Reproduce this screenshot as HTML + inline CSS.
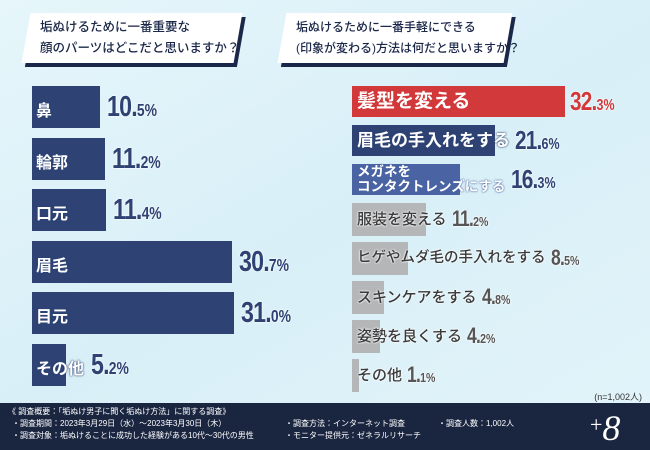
<!DOCTYPE html>
<html><head><meta charset="utf-8">
<style>
*{margin:0;padding:0;box-sizing:border-box}
body{width:650px;height:450px;overflow:hidden;font-family:"Liberation Sans","Noto Sans CJK JP",sans-serif;background:#dcf1f8;position:relative}
.bg{position:absolute;inset:0;background:linear-gradient(150deg,#e6f6fb 0%,#d8eff7 50%,#e3f4fa 100%)}
.title{position:absolute;top:13px;height:50px;background:#fff;transform:skewX(-10deg);box-shadow:4px 4px 0 #1b2748}
.title span{position:absolute;transform:skewX(10deg);line-height:21px;color:#1b2748;font-weight:500;left:14px;top:4px;white-space:nowrap}
.bar{position:absolute}
.lbl{position:absolute;font-weight:bold;white-space:nowrap}
.val{position:absolute;font-weight:bold;white-space:nowrap;font-family:"Liberation Sans Narrow","Liberation Sans",sans-serif;transform:scaleX(0.8);transform-origin:left center;letter-spacing:-1px}
.val small{font-size:60%;letter-spacing:0}
.footer{position:absolute;left:0;top:403px;width:650px;height:47px;background:#1a2540;color:#fff;font-size:8px;line-height:11.5px}
</style></head><body>
<div class="bg"></div>
<div class="title" style="left:26px;width:212px"><span style="font-size:12.5px">垢ぬけるために一番重要な<br>顔のパーツはどこだと思いますか？</span></div>
<div class="title" style="left:282px;width:226px"><span style="font-size:12px">垢ぬけるために一番手軽にできる<br>(印象が変わる)方法は何だと思いますか？</span></div>
<div id="left"></div>
<div id="right"></div>
<div style="position:absolute;right:8px;top:390px;font-size:9px;color:#333">(n=1,002人)</div>
<div class="footer">
<div style="position:absolute;left:8px;top:3px">《 調査概要：「垢ぬけ男子に聞く垢ぬけ方法」に関する調査》</div>
<div style="position:absolute;left:12px;top:15px">・調査期間：2023年3月29日（水）～2023年3月30日（木）</div>
<div style="position:absolute;left:12px;top:27px">・調査対象：垢ぬけることに成功した経験がある10代～30代の男性</div>
<div style="position:absolute;left:285px;top:15px">・調査方法：インターネット調査</div>
<div style="position:absolute;left:285px;top:27px">・モニター提供元：ゼネラルリサーチ</div>
<div style="position:absolute;left:438px;top:15px">・調査人数：1,002人</div>
<div style="position:absolute;left:590px;top:2px;font-size:36px;line-height:40px;font-family:'Liberation Serif',serif;font-style:italic"><span style="font-size:22px;font-style:normal;vertical-align:8px">+</span>8</div>
</div>
<script>
const leftCats=["鼻","輪郭","口元","眉毛","目元","その他"];
const leftVals=[10.5,11.2,11.4,30.7,31.0,5.2];
const rightCats=["髪型を変える","眉毛の手入れをする","メガネを\nコンタクトレンズにする","服装を変える","ヒゲやムダ毛の手入れをする","スキンケアをする","姿勢を良くする","その他"];
const rightVals=[32.3,21.6,16.3,11.2,8.5,4.8,4.2,1.1];
function fmt(v){const s=v.toFixed(1).split('.');return s[0]+'.<small>'+s[1]+'%</small>';}
const L=document.getElementById('left');
const lx=v=>v*6.5, ly=i=>86+i*51.5;
leftCats.forEach((c,i)=>{
 const b=document.createElement('div');b.className='bar';
 
 
 b.style.cssText=`left:32px;top:${ly(i)}px;width:${lx(leftVals[i])}px;height:42px;background:#2e4374`;
 L.appendChild(b);
 const t=document.createElement('div');t.className='lbl';
 
 
 t.style.cssText=`left:36px;top:${ly(i)+11}px;font-size:16px;color:#fff;text-shadow:0 0 2px #2e4374,0 0 1px #2e4374`;
 t.textContent=c;L.appendChild(t);
 const w=document.createElement('div');w.className='val';
 
 
 const vx=Math.max(32+lx(leftVals[i]), c.length*16+36)+7;
 w.style.cssText=`left:${vx}px;top:${ly(i)+5}px;font-size:29px;color:#2e4374;text-shadow:0 0 2px #fff,0 0 2px #fff`;
 w.innerHTML=fmt(leftVals[i]);L.appendChild(w);
});
const R=document.getElementById('right');
const rx=v=>v*6.6, ry=i=>86+i*39;
const colors=["#d2393b","#2e4374","#4a64a3"];
const fsz=[19,17,13.5,15,14.5,15,15,15];
rightCats.forEach((c,i)=>{
 const col=colors[i]||"#b4b6b8";
 const b=document.createElement('div');b.className='bar';
 
 
 b.style.cssText=`left:352px;top:${ry(i)}px;width:${rx(rightVals[i])}px;height:${i<3?31:33}px;background:${col}`;
 R.appendChild(b);
 const two=c.includes('\n');
 const fs=fsz[i];
 const t=document.createElement('div');t.className='lbl';
 
 
 const tc=i<3?'#fff':'#3a3a3a';
 const sh=i<3?`0 0 2px ${col},0 0 1px ${col}`:'0 0 2px #fff,0 0 2px #fff';
 t.style.cssText=`left:357px;top:${ry(i)+(two?0:(33-fs*1.2)/2)}px;font-size:${fs}px;line-height:${two?15:fs*1.2}px;color:${tc};text-shadow:${sh};font-weight:${i<3?'bold':'500'}`;
 t.innerHTML=c.replace('\n','<br>');R.appendChild(t);
 const lines=c.split('\n');const tw=Math.max(...lines.map(s=>s.length))*fs;
 const w=document.createElement('div');w.className='val';
 
 
 const vx=Math.max(352+rx(rightVals[i]),357+tw)+5;
 const vc=i==0?'#d2393b':(i<3?'#2e4374':'#555');
 const vs=i<3?26:22;
 w.style.cssText=`left:${vx}px;top:${ry(i)+(i<3?0:3)}px;font-size:${vs}px;color:${vc};text-shadow:0 0 2px #fff,0 0 2px #fff`;
 w.innerHTML=fmt(rightVals[i]);R.appendChild(w);
});
</script>
</body></html>
